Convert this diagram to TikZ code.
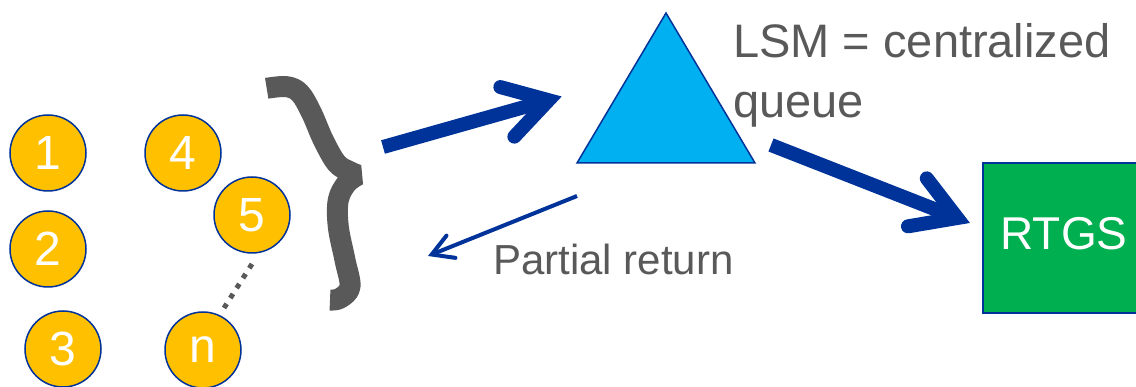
\documentclass[tikz,border=0pt]{standalone}
\usepackage{fontspec}
\setmainfont{Liberation Sans}
\usetikzlibrary{calc}
\definecolor{navy}{HTML}{003399}
\definecolor{gold}{HTML}{FFC000}
\definecolor{sky}{HTML}{00B0F0}
\definecolor{grn}{HTML}{00B050}
\definecolor{gry}{HTML}{595959}
\begin{document}
\begin{tikzpicture}[x=1pt,y=-1pt,
  coin/.style={circle,draw=navy,line width=1.5pt,fill=gold,minimum size=76pt,inner sep=0pt,text=white,font=\fontsize{48}{48}\selectfont},
  shaft/.style={draw=navy,line width=14pt},
  barb/.style={draw=navy,line width=14pt,line cap=round,line join=miter},
  thinshaft/.style={draw=navy,line width=4pt},
  thinbarb/.style={draw=navy,line width=4pt,line cap=round,line join=miter},
  bracestroke/.style={draw=gry,line width=21pt,line join=bevel},
  dots/.style={draw=gry,line width=5pt,dash pattern=on 5pt off 6.8pt},
  tri/.style={draw=navy,line width=1.5pt,fill=sky,line join=miter},
  rtgsbox/.style={rectangle,draw=navy,line width=1.5pt,fill=grn,minimum width=162pt,minimum height=150pt,text=white,text depth=9pt,font=\fontsize{46}{46}\selectfont},
  lbl/.style={text=gry,inner sep=0pt}]
\useasboundingbox (0,0) rectangle (1136,387);

% participants
\node[coin] (c1) at (48,153) {1};
\node[coin] (c2) at (48,249) {2};
\node[coin] (c3) at (63,349) {3};
\node[coin] (c4) at (183,153) {4};
\node[coin] (c5) at (252,215) {5};
\node[coin] (cn) at (203,350) {n};
\coordinate (d1) at (252,264);
\coordinate (d2) at (224,308);
\draw[dots] (d1) -- (d2);

% brace
\draw[bracestroke] plot[smooth,tension=0.6] coordinates {(266.7,88.3) (286.7,86.7) (300,93.3) (311.7,113.3) (323.3,140) (336.7,163.3) (350,171.7) (358,175)}
  -- plot[smooth,tension=0.6] coordinates {(358,175) (346.7,183.3) (338.3,200) (338.3,226.7) (345,260) (350,286.7) (340,298.3) (330,300)};

% triangle (LSM)
\coordinate (tA) at (666,13);
\coordinate (tB) at (577,163);
\coordinate (tC) at (755,163);
\draw[tri] (tA) -- (tB) -- (tC) -- cycle;
\node[lbl,anchor=base west,align=left,font=\fontsize{47}{60}\selectfont] (lsm) at (733,118) {LSM = centralized\\queue};

% RTGS
\node[rtgsbox] (rtgs) at (1064,238) {RTGS};

% arrow brace -> LSM
\coordinate (a1s) at (383,147);
\coordinate (a1e) at (548.6,100.2);
\draw[shaft] (a1s) -- (a1e);
\draw[barb] ($(a1e)!50pt!31:(a1s)$) -- (a1e) -- ($(a1e)!50pt!-31:(a1s)$);

% arrow LSM -> RTGS
\coordinate (a3s) at (771,145);
\coordinate (a3e) at (957.3,218);
\draw[shaft] (a3s) -- (a3e);
\draw[barb] ($(a3e)!50pt!31:(a3s)$) -- (a3e) -- ($(a3e)!50pt!-31:(a3s)$);

% partial return
\coordinate (a2s) at (577,196);
\coordinate (a2e) at (431.7,254.5);
\draw[thinshaft] (a2s) -- (a2e);
\draw[thinbarb] ($(a2e)!24pt!30:(a2s)$) -- (a2e) -- ($(a2e)!24pt!-30:(a2s)$);
\node[lbl,anchor=base west,font=\fontsize{42}{42}\selectfont] (pr) at (493,275) {Partial return};
\end{tikzpicture}
\end{document}
